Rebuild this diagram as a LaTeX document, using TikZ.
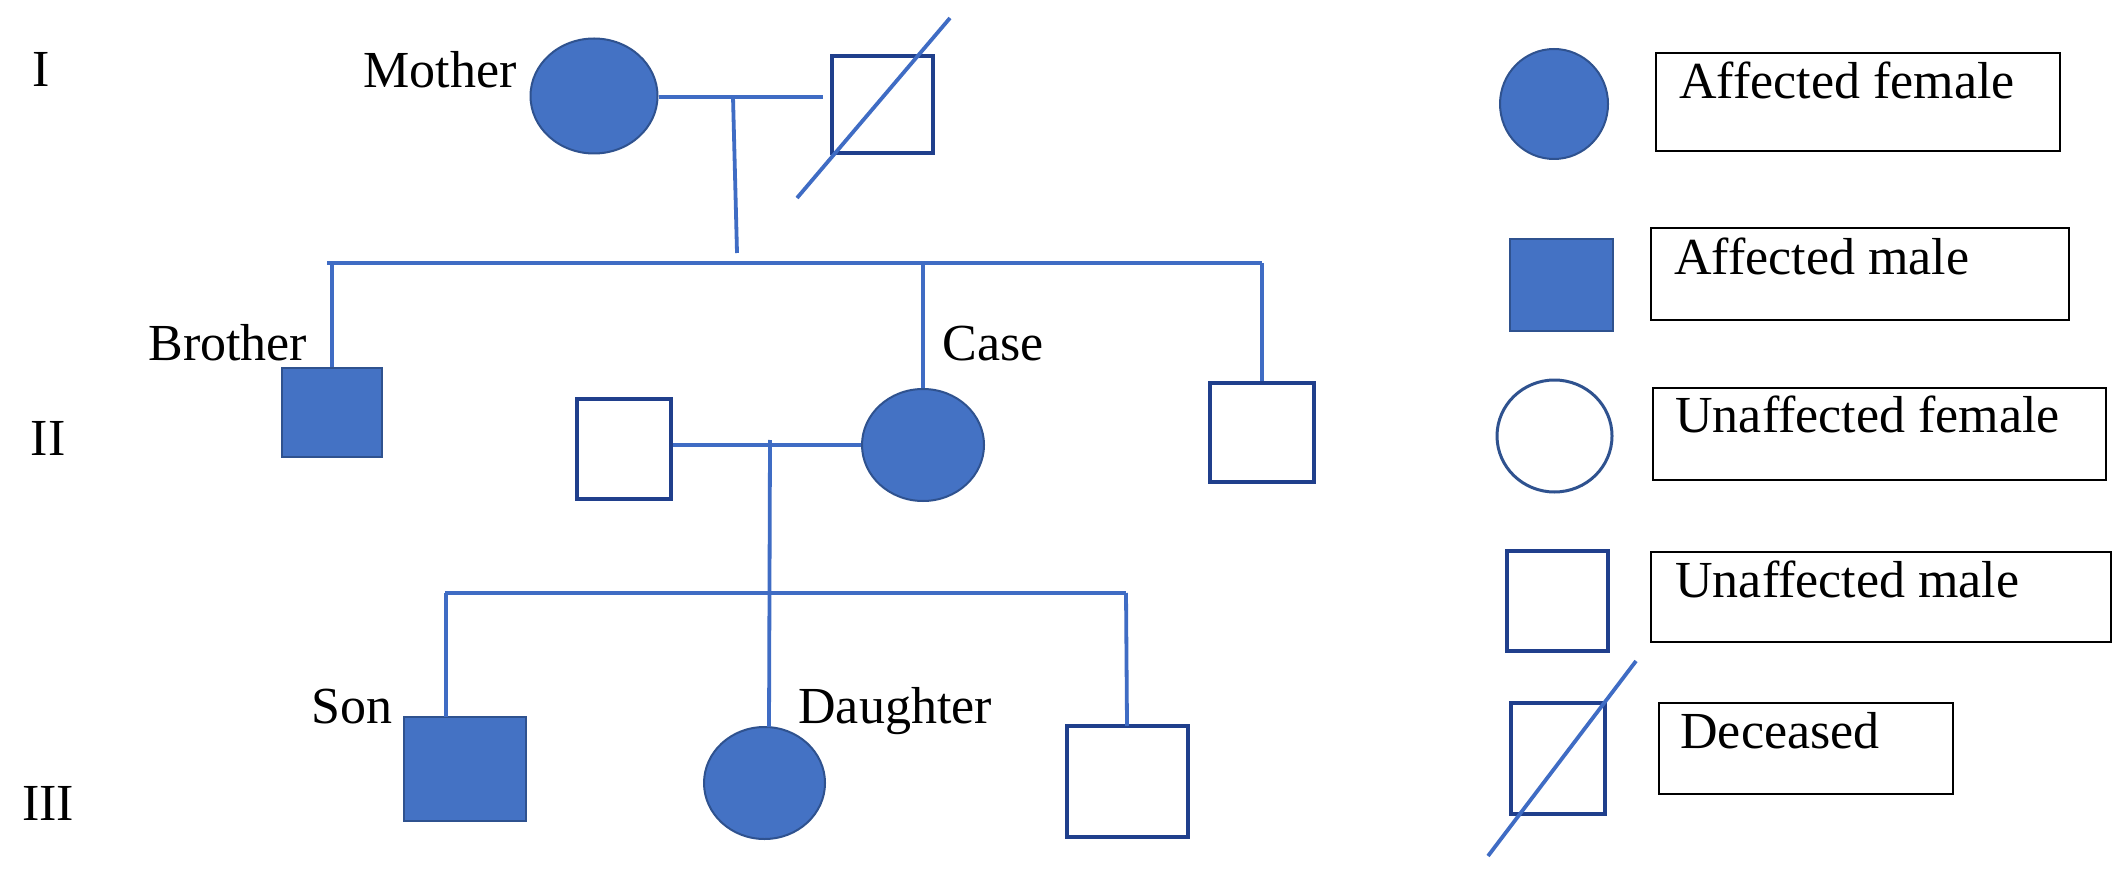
\documentclass[tikz,border=0pt]{standalone}
\usepackage{fontspec}
\setmainfont{Liberation Serif}
\usetikzlibrary{shapes.geometric}
\definecolor{affblue}{HTML}{4472C4}
\definecolor{affedge}{HTML}{2F528F}
\definecolor{unedge}{HTML}{203F8C}
\definecolor{lineblue}{HTML}{3F6CC4}
\begin{document}
\begin{tikzpicture}[x=0.5pt,y=-0.5pt,
  aff/.style={fill=affblue,draw=affedge,line width=1pt,inner sep=0pt},
  femaff/.style={ellipse,aff},
  maleaff/.style={rectangle,aff},
  maleun/.style={rectangle,draw=unedge,line width=2.3pt,fill=white,inner sep=0pt},
  femun/.style={ellipse,draw=affedge,line width=1.5pt,inner sep=0pt},
  conn/.style={draw=lineblue,line width=1.9pt},
  lbox/.style={rectangle,draw=black,line width=1.3pt,inner sep=0pt},
  lbl/.style={inner sep=0pt,anchor=base west,font=\fontsize{26pt}{30pt}\selectfont},
  gen/.style={inner sep=0pt,anchor=base,font=\fontsize{26pt}{30pt}\selectfont}
]
\fill[white] (0,0) rectangle (2128,871);
\useasboundingbox (0,0) rectangle (2128,871);

% generation labels
\node[gen] (g1) at (41,87) {I};
\node[gen] (g2) at (48,455) {II};
\node[gen] (g3) at (48,820) {III};

% generation I
\node[femaff,minimum width=63.5pt,minimum height=57.5pt] (mother) at (594,96) {};
\node[maleun,minimum width=50.5pt,minimum height=48.5pt] (father) at (882.5,104.5) {};
\coordinate (fs1) at (797,198);
\coordinate (fs2) at (950,18);
\draw[conn] (fs1) -- (fs2);
\node[lbl] (tmother) at (363,88) {Mother};

% generation II
\node[maleaff,minimum width=50pt,minimum height=44.5pt] (brother) at (332,412.5) {};
\node[femaff,minimum width=61pt,minimum height=56pt] (case) at (923,445) {};
\node[maleun,minimum width=52pt,minimum height=49.5pt] (rsib) at (1262,432.5) {};
\node[maleun,minimum width=47pt,minimum height=50pt] (husband) at (624,449) {};
\node[lbl] (tbrother) at (148,360) {Brother};
\node[lbl] (tcase) at (942,360) {Case};

% generation III
\node[maleaff,minimum width=61pt,minimum height=52pt] (son) at (465,769) {};
\node[femaff,minimum width=60.5pt,minimum height=56pt] (daughter) at (764.5,783) {};
\node[maleun,minimum width=60.5pt,minimum height=55.5pt] (rchild) at (1127.5,781.5) {};
\node[lbl] (tson) at (311,723) {Son};
\node[lbl] (tdaughter) at (798,723) {Daughter};

% connectors generation I -> II
\coordinate (m1) at (733,97);
\coordinate (m1b) at (737,253);
\coordinate (sibL) at (327,263);
\coordinate (sibR) at (1262,263);
\draw[conn] (mother.east |- m1) -- ([xshift=-3.5pt]father.west |- m1);
\draw[conn] (m1) -- (m1b);
\draw[conn] (sibL) -- (sibR);
\draw[conn] (brother.north) -- (brother.north |- sibL);
\draw[conn] (case.north) -- (case.north |- sibL);
\draw[conn] (rsib.north) -- (rsib.north |- sibR);

% connectors generation II -> III
\coordinate (m2) at (770,440);
\coordinate (chL) at (445,593);
\coordinate (chR) at (1126,593);
\coordinate (sonTop) at (446,717);
\coordinate (dauTop) at (769,727);
\coordinate (rchTop) at (1127,726);
\draw[conn] (husband.east |- case.west) -- (case.west);
\draw[conn] (m2) -- (dauTop);
\draw[conn] (chL) -- (chR);
\draw[conn] (sonTop) -- (sonTop |- chL);
\draw[conn] (rchTop) -- (chR);

% legend
\node[femaff,minimum width=54pt,minimum height=55pt] (lafc) at (1554,104) {};
\node[lbox,minimum width=202pt,minimum height=49pt] (lafb) at (1858,102) {};
\node[lbl] (laft) at (1679,99) {Affected female};

\node[maleaff,minimum width=51.5pt,minimum height=46pt] (lams) at (1561.5,285) {};
\node[lbox,minimum width=209pt,minimum height=46pt] (lamb) at (1860,274) {};
\node[lbl] (lamt) at (1674,275) {Affected male};

\node[femun,minimum width=57.5pt,minimum height=56pt] (lufc) at (1554.5,436) {};
\node[lbox,minimum width=226.5pt,minimum height=46pt] (lufb) at (1879.5,434) {};
\node[lbl] (luft) at (1675,432) {Unaffected female};

\node[maleun,minimum width=50.5pt,minimum height=50pt] (lums) at (1557.5,601) {};
\node[lbox,minimum width=230pt,minimum height=45pt] (lumb) at (1881,597) {};
\node[lbl] (lumt) at (1675,597) {Unaffected male};

\node[maleun,minimum width=47pt,minimum height=55.5pt] (lds) at (1558,758.5) {};
\coordinate (ds1) at (1488,856);
\coordinate (ds2) at (1636,661);
\draw[conn] (ds1) -- (ds2);
\node[lbox,minimum width=147pt,minimum height=45.5pt] (ldb) at (1806,748.5) {};
\node[lbl] (ldt) at (1680,748) {Deceased};
\end{tikzpicture}
\end{document}
